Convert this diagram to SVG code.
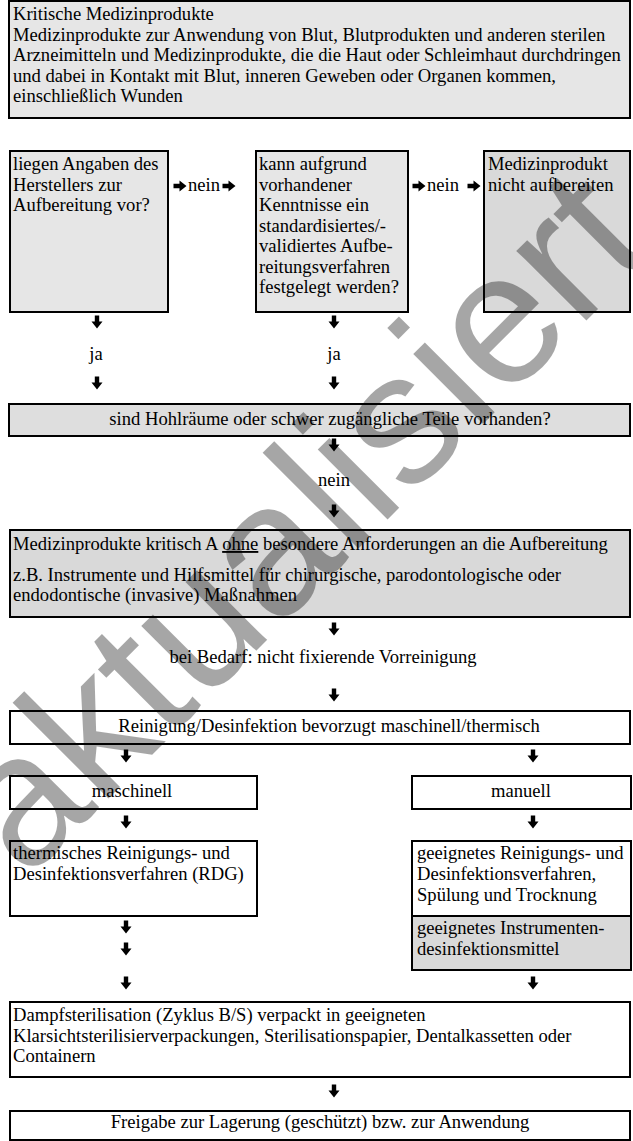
<svg xmlns="http://www.w3.org/2000/svg" width="633" height="1141" viewBox="0 0 633 1141">
<style>
.box{stroke:#000;stroke-width:2;fill:#fff}
.g1{fill:#e6e6e6}
.g2{fill:#d9d9d9}
.g3{fill:#dedede}
text{font-family:"Liberation Serif","Times New Roman",serif;font-size:18.6px;fill:#000}
.c{text-anchor:middle}
.wm{font-family:"Liberation Sans",Arial,sans-serif;font-size:187px;fill:#000;fill-opacity:0.35}
</style>
<defs>
<path id="ad" d="M-2.2,-6.5H2.2V-0.5H5.5L0,6.5L-5.5,-0.5H-2.2Z" fill="#000"/>
<path id="ar" d="M-6.5,-2.2H-0.5V-5.5L6.5,0L-0.5,5.5V2.2H-6.5Z" fill="#000"/>
</defs>
<rect width="633" height="1141" fill="#fff"/>

<g id="n-top">
<rect class="box g1" x="9" y="1" width="621" height="117"/>
<text x="13" y="20">Kritische Medizinprodukte</text>
<text x="13" y="40.5">Medizinprodukte zur Anwendung von Blut, Blutprodukten und anderen sterilen</text>
<text x="13" y="61">Arzneimitteln und Medizinprodukte, die die Haut oder Schleimhaut durchdringen</text>
<text x="13" y="81.5">und dabei in Kontakt mit Blut, inneren Geweben oder Organen kommen,</text>
<text x="13" y="102">einschließlich Wunden</text>
</g>

<g id="n-angaben">
<rect class="box g1" x="10" y="151" width="158" height="161"/>
<text x="13" y="170">liegen Angaben des</text>
<text x="13" y="190.5">Herstellers zur</text>
<text x="13" y="211">Aufbereitung vor?</text>
</g>

<g id="n-kenntnisse">
<rect class="box g1" x="256" y="151" width="152" height="161"/>
<text x="259" y="170">kann aufgrund</text>
<text x="259" y="190.5">vorhandener</text>
<text x="259" y="211">Kenntnisse ein</text>
<text x="259" y="231.5">standardisiertes/-</text>
<text x="259" y="252">validiertes Aufbe-</text>
<text x="259" y="272.5">reitungsverfahren</text>
<text x="259" y="293">festgelegt werden?</text>
</g>

<g id="n-nicht">
<rect class="box g2" x="484" y="151" width="146" height="161"/>
<text x="488" y="170">Medizinprodukt</text>
<text x="488" y="190.5">nicht aufbereiten</text>
</g>

<g id="n-hohl">
<rect class="box g3" x="9" y="404" width="621" height="32"/>
<text class="c" x="330" y="425">sind Hohlräume oder schwer zugängliche Teile vorhanden?</text>
</g>

<g id="n-kritA">
<rect class="box g2" x="10" y="530" width="620" height="87"/>
<text x="13" y="550">Medizinprodukte kritisch A <tspan text-decoration="underline">ohne</tspan> besondere Anforderungen an die Aufbereitung</text>
<text x="13" y="581">z.B. Instrumente und Hilfsmittel für chirurgische, parodontologische oder</text>
<text x="13" y="601">endodontische (invasive) Maßnahmen</text>
</g>

<g id="n-vorrein">
<text class="c" x="323" y="663">bei Bedarf: nicht fixierende Vorreinigung</text>
</g>

<g id="n-reinigung">
<rect class="box" x="10" y="711" width="620" height="33"/>
<text class="c" x="329" y="732">Reinigung/Desinfektion bevorzugt maschinell/thermisch</text>
</g>

<g id="n-maschinell">
<rect class="box" x="10" y="776" width="247" height="33"/>
<text class="c" x="132" y="797">maschinell</text>
</g>

<g id="n-manuell">
<rect class="box" x="412" y="776" width="219" height="33"/>
<text class="c" x="521" y="797">manuell</text>
</g>

<g id="n-rdg">
<rect class="box" x="10" y="841" width="247" height="75"/>
<text x="13" y="859">thermisches Reinigungs- und</text>
<text x="13" y="880">Desinfektionsverfahren (RDG)</text>
</g>

<g id="n-manverf">
<rect class="box" x="412" y="841" width="219" height="75"/>
<text x="417" y="859">geeignetes Reinigungs- und</text>
<text x="417" y="880">Desinfektionsverfahren,</text>
<text x="417" y="901">Spülung und Trocknung</text>
</g>

<g id="n-mittel">
<rect class="box g2" x="412" y="916" width="219" height="54"/>
<text x="417" y="934">geeignetes Instrumenten-</text>
<text x="417" y="955">desinfektionsmittel</text>
</g>

<g id="n-dampf">
<rect class="box" x="10" y="1002" width="620" height="75"/>
<text x="13" y="1021">Dampfsterilisation (Zyklus B/S) verpackt in geeigneten</text>
<text x="13" y="1042">Klarsichtsterilisierverpackungen, Sterilisationspapier, Dentalkassetten oder</text>
<text x="13" y="1062">Containern</text>
</g>

<g id="n-freigabe">
<rect class="box" x="10" y="1111" width="620" height="29"/>
<text class="c" x="320" y="1128">Freigabe zur Lagerung (geschützt) bzw. zur Anwendung</text>
</g>

<g id="connectors">
<use href="#ar" x="180" y="186"/>
<text x="188" y="191">nein</text>
<use href="#ar" x="229" y="186"/>
<use href="#ar" x="419" y="186"/>
<text x="427" y="191">nein</text>
<use href="#ar" x="474" y="186"/>

<use href="#ad" x="97" y="322"/>
<text class="c" x="96" y="360">ja</text>
<use href="#ad" x="97" y="383"/>
<use href="#ad" x="334" y="322"/>
<text class="c" x="334" y="360">ja</text>
<use href="#ad" x="334" y="383"/>

<use href="#ad" x="334" y="445"/>
<text class="c" x="334" y="486">nein</text>
<use href="#ad" x="334" y="511"/>

<use href="#ad" x="334" y="629"/>
<use href="#ad" x="334" y="695"/>

<use href="#ad" x="126" y="756"/>
<use href="#ad" x="533" y="756"/>
<use href="#ad" x="126" y="822"/>
<use href="#ad" x="533" y="822"/>

<use href="#ad" x="126" y="927"/>
<use href="#ad" x="126" y="949"/>
<use href="#ad" x="126" y="983"/>
<use href="#ad" x="533" y="983"/>

<use href="#ad" x="334" y="1091"/>
</g>

<g id="watermark">
<text class="wm" transform="translate(26,881) rotate(-45)">aktualisiert</text>
</g>
</svg>
